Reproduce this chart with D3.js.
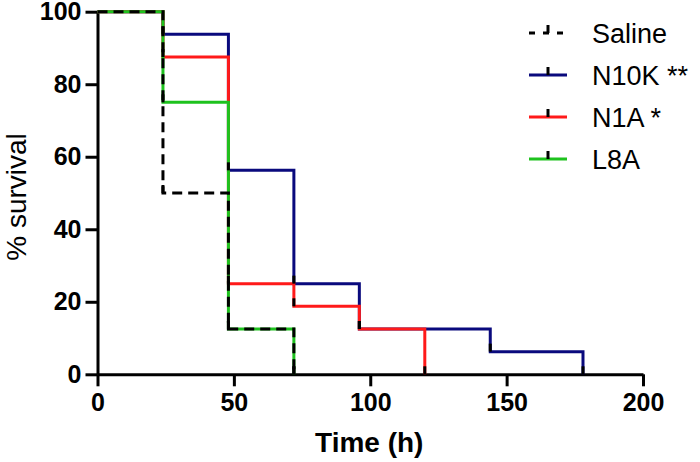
<!DOCTYPE html>
<html>
<head>
<meta charset="utf-8">
<script src="https://cdn.jsdelivr.net/npm/d3@7"></script>
<style>
  body { margin: 0; background: #fff; }
  svg { display: block; font-family: Arial, "Liberation Sans", sans-serif; }
</style>
</head>
<body>
<div id="chart"></div>
<script>
// survival data (time in h, % survival)
var salineTime = [0, 24, 48, 72];
var salineSurv = [100, 50, 12.5, 0];
var n10kTime = [0, 24, 48, 72, 96, 144, 178];
var n10kSurv = [100, 93.75, 56.25, 25, 12.5, 6.25, 0];
var n1aTime = [0, 24, 48, 72, 96, 120];
var n1aSurv = [100, 87.5, 25, 18.75, 12.5, 0];
var l8aTime = [0, 24, 48, 72];
var l8aSurv = [100, 75, 12.5, 0];

var legendLabels = ["Saline", "N10K **", "N1A *", "L8A"];
var xTicks = [0, 50, 100, 150, 200];
var yTicks = [0, 20, 40, 60, 80, 100];

var w = 700, h = 462;
// note: "top" is a reserved window property, so use plot* names
var plotLeft = 97.5, plotRight = 643, plotTop = 11.7, plotBottom = 374.3;

var series = [
    { name: legendLabels[1], time: n10kTime, surv: n10kSurv, color: "#0a0a7d", dash: null },
    { name: legendLabels[2], time: n1aTime, surv: n1aSurv, color: "#ff1a1a", dash: null },
    { name: legendLabels[3], time: l8aTime, surv: l8aSurv, color: "#1ec21e", dash: null },
    { name: legendLabels[0], time: salineTime, surv: salineSurv, color: "#000000", dash: "10,6" }
];

var svg = d3.select("#chart").append("svg").attr("width", w).attr("height", h);

var x = d3.scaleLinear().domain([0, 200]).range([plotLeft, plotRight]);
var y = d3.scaleLinear().domain([0, 100]).range([plotBottom, plotTop]);

var line = d3.line()
    .x(function(d) { return x(d[0]); })
    .y(function(d) { return y(d[1]); })
    .curve(d3.curveStepAfter);

// axes
var xAxis = svg.append("g")
    .attr("transform", "translate(0," + plotBottom + ")")
    .call(d3.axisBottom(x).tickValues(xTicks).tickSize(12).tickSizeOuter(0).tickPadding(7));
var yAxis = svg.append("g")
    .attr("transform", "translate(" + plotLeft + ",0)")
    .call(d3.axisLeft(y).tickValues(yTicks).tickSize(12).tickSizeOuter(0).tickPadding(4));

[xAxis, yAxis].forEach(function(a) {
    a.selectAll("path, line").attr("stroke", "#000").attr("stroke-width", 3);
    a.selectAll("text")
        .attr("fill", "#000")
        .style("font-size", "25px")
        .style("font-weight", "bold")
        .style("font-family", "Arial, 'Liberation Sans', sans-serif");
});

// survival curves, saline last so it sits on top
series.forEach(function(s) {
    var pts = s.time.map(function(t, i) { return [t, s.surv[i]]; });
    svg.append("path")
        .datum(pts)
        .attr("d", line)
        .attr("fill", "none")
        .attr("stroke", s.color)
        .attr("stroke-width", 3)
        .attr("stroke-dasharray", s.dash);
});

// black event marks at the foot of each drop
series.forEach(function(s) {
    for (var i = 1; i < s.time.length; i++) {
        svg.append("line")
            .attr("x1", x(s.time[i])).attr("x2", x(s.time[i]))
            .attr("y1", y(s.surv[i])).attr("y2", y(s.surv[i]) - 8)
            .attr("stroke", "#000")
            .attr("stroke-width", 3);
    }
});

// legend
var legendOrder = [series[3], series[0], series[1], series[2]];
var legend = svg.append("g");
legendOrder.forEach(function(s, i) {
    var ly = 33 + i * 42;
    legend.append("line")
        .attr("x1", 529).attr("x2", 567)
        .attr("y1", ly).attr("y2", ly)
        .attr("stroke", s.color)
        .attr("stroke-width", 3)
        .attr("stroke-dasharray", s.dash ? "6,8" : null);
    legend.append("line")
        .attr("x1", 548).attr("x2", 548)
        .attr("y1", ly).attr("y2", ly - 8)
        .attr("stroke", "#000")
        .attr("stroke-width", 3);
    legend.append("text")
        .attr("x", 592)
        .attr("y", ly + 10)
        .style("font-size", "27px")
        .text(s.name);
});

// axis titles
svg.append("text")
    .attr("x", (plotLeft + plotRight) / 2 - 1)
    .attr("y", 452)
    .attr("text-anchor", "middle")
    .style("font-size", "28px")
    .style("font-weight", "bold")
    .text("Time (h)");

svg.append("text")
    .attr("transform", "translate(26,197) rotate(-90)")
    .attr("text-anchor", "middle")
    .style("font-size", "28px")
    .text("% survival");
</script>
</body>
</html>
